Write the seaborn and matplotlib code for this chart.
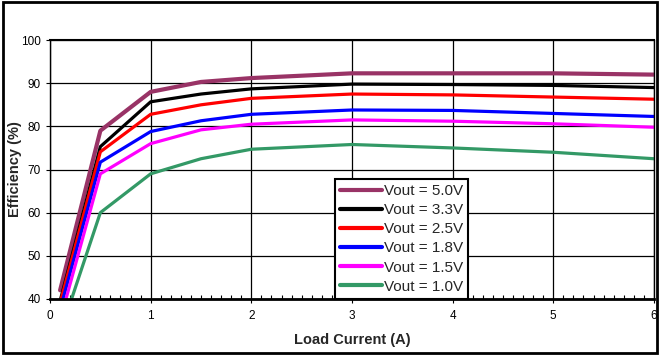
import pandas as pd
import numpy as np
import matplotlib
matplotlib.use("Agg")
import matplotlib.pyplot as plt
import seaborn as sns
from matplotlib.patches import Rectangle
from matplotlib.ticker import MultipleLocator

# load current (A)
current = [0.1, 0.5, 1, 1.5, 2, 3, 4, 5, 6]

# efficiency (%)
eff_50 = [42.0, 79.0, 88.0, 90.3, 91.2, 92.3, 92.3, 92.3, 92.0]
eff_33 = [39.5, 75.3, 85.7, 87.5, 88.7, 89.8, 89.7, 89.5, 89.0]
eff_25 = [39.0, 74.1, 82.8, 85.0, 86.5, 87.5, 87.3, 86.8, 86.3]
eff_18 = [37.5, 71.7, 78.8, 81.3, 82.8, 83.8, 83.7, 83.0, 82.3]
eff_15 = [35.0, 69.0, 76.0, 79.2, 80.5, 81.5, 81.2, 80.6, 79.8]
eff_10 = [32.0, 60.0, 69.0, 72.5, 74.7, 75.8, 75.0, 74.0, 72.5]

labels = ["Vout = 5.0V", "Vout = 3.3V", "Vout = 2.5V",
          "Vout = 1.8V", "Vout = 1.5V", "Vout = 1.0V"]
colors = ["#993366", "#000000", "#ff0000", "#0000ff", "#ff00ff", "#339966"]

series = [eff_50, eff_33, eff_25, eff_18, eff_15, eff_10]
rows = []
for lab, vals in zip(labels, series):
    for x, y in zip(current, vals):
        rows.append({"Load Current (A)": x, "Efficiency (%)": y, "Vout": lab})
df = pd.DataFrame(rows)

sns.set_style("white")
plt.rcParams['font.family'] = ['Liberation Sans', 'DejaVu Sans']

fig = plt.figure(figsize=(6.6, 3.55), dpi=100)
ax = fig.add_axes([0.0758, 0.158, 0.915, 0.729])

sns.lineplot(data=df, x="Load Current (A)", y="Efficiency (%)", hue="Vout",
             palette=dict(zip(labels, colors)), hue_order=labels,
             linewidth=2.3, ax=ax)
# purple line is a bit heavier
ax.get_lines()[0].set_linewidth(3.0)

ax.set_xlim(0, 6)
ax.set_ylim(40, 100)
ax.xaxis.set_major_locator(MultipleLocator(1))
ax.xaxis.set_minor_locator(MultipleLocator(0.1))
ax.yaxis.set_major_locator(MultipleLocator(10))
ax.grid(True, which="major", color="black", linewidth=0.9)
ax.set_axisbelow(True)
for s in ax.spines.values():
    s.set_color("black")
    s.set_linewidth(1.0)
ax.spines["bottom"].set_linewidth(2.0)
ax.spines["top"].set_linewidth(1.5)
ax.tick_params(axis="both", which="major", labelsize=8.5, length=3,
               direction="out", colors="black")
ax.tick_params(axis="x", which="major", pad=5)
ax.tick_params(axis="x", which="minor", length=3, width=0.8, direction="in",
               bottom=True, color="black")
ax.tick_params(axis="x", which="major", bottom=True)
ax.tick_params(axis="y", which="major", left=True)

ax.set_xlabel("Load Current (A)", fontsize=10.5, fontweight="bold")
ax.set_ylabel("Efficiency (%)", fontsize=10.5, fontweight="bold")
ax.yaxis.set_label_coords(-0.046, 0.5)
ax.xaxis.set_label_coords(0.5, -0.13)

leg = ax.legend(loc="lower left", bbox_to_anchor=(0.472, 0.0), fontsize=11,
                frameon=True, fancybox=False, handlelength=2.7,
                handletextpad=0.15, borderpad=0.35, labelspacing=0.33,
                borderaxespad=0)
leg.get_frame().set_edgecolor("black")
leg.get_frame().set_linewidth(1.5)
leg.get_frame().set_alpha(1)
for h in leg.get_lines():
    h.set_linewidth(3)

fig.patches.append(Rectangle((0.004, 0.006), 0.992, 0.988, transform=fig.transFigure,
                             fill=False, edgecolor="black", linewidth=2))

fig.savefig("out.png", dpi=100)
